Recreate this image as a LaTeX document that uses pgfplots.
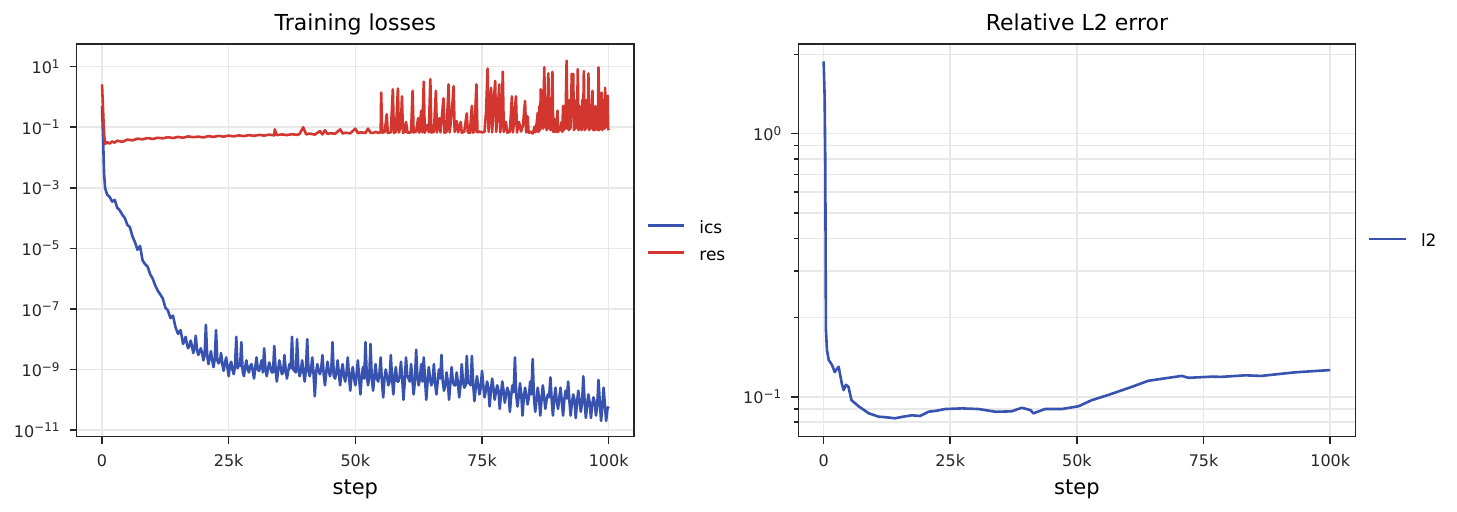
\documentclass[border=0pt]{standalone}
\usepackage{fontspec}
\setmainfont{DejaVu Sans}
\usepackage{pgfplots}
\usepackage{pgfplotstable}
\pgfplotsset{compat=1.18}

\definecolor{lineblue}{RGB}{56,82,176}
\definecolor{linered}{RGB}{211,54,46}
\definecolor{gridgray}{RGB}{232,232,232}
\definecolor{framegray}{RGB}{38,38,38}

% initial-condition loss
\pgfplotstableread{
step value
0 0.5
200 0.05
400 3e-3
600 1e-3
1000 6e-4
1500 5e-4
2000 3.5e-4
2500 4e-4
3000 2.2e-4
3500 1.8e-4
4000 1.3e-4
4500 1e-4
5000 6e-5
5500 5e-5
6000 2.5e-5
6500 1.6e-5
7000 9e-6
7500 1.2e-5
8000 4e-6
8500 3e-6
9000 2.5e-6
9500 1.4e-6
10000 1.0e-6
10500 6e-7
11000 4e-7
11500 3e-7
12000 2.2e-7
12500 1.1e-7
13000 9e-8
13500 5e-8
14000 6e-8
14500 2.5e-8
15000 1.5e-8
15500 2e-8
16000 7e-9
16250 9e-9
16500 1.2e-8
16750 7e-9
17000 5e-9
17250 6e-9
17500 9e-9
17750 6e-9
18000 3.5e-9
18250 5e-9
18500 1.3e-8
18750 4.5e-9
19000 3e-9
19250 4e-9
19500 5e-9
19750 3.5e-9
20000 2e-9
20250 3e-9
20500 3e-8
20750 3e-9
21000 1.5e-9
21250 2.5e-9
21500 4e-9
21750 2e-9
22000 1.2e-9
22250 2.2e-9
22500 2e-8
22750 2e-9
23000 1.6e-9
23250 1.8e-9
23500 3.5e-9
23750 1.5e-9
24000 9e-10
24250 1.6e-9
24500 2.5e-9
24750 1.2e-9
25000 6e-10
25250 1.4e-9
25500 1.8e-9
25750 1e-9
26000 7e-10
26250 1.3e-9
26500 1.2e-8
26750 1.1e-9
27000 1.5e-9
27250 1.3e-9
27500 8e-9
27750 9e-10
28000 6e-10
28250 1.2e-9
28500 2e-9
28750 1e-9
29000 8e-10
29250 1.3e-9
29500 1.5e-9
29750 9e-10
30000 5e-10
30250 1.2e-9
30500 2.5e-9
30750 1e-9
31000 9e-10
31250 1.3e-9
31500 2e-9
31750 8e-10
32000 5e-9
32250 1.1e-9
32500 6e-10
32750 1e-9
33000 1.7e-9
33250 1.2e-9
33500 8e-10
33750 8e-10
34000 6e-9
34250 1.1e-9
34500 4e-10
34750 9e-10
35000 2e-9
35250 1.2e-9
35500 7e-10
35750 8e-10
36000 3e-9
36250 1e-9
36500 5e-10
36750 9e-10
37000 1.5e-9
37250 1.1e-9
37500 1.2e-8
37750 1e-9
38000 9e-10
38250 8e-10
38500 1e-8
38750 1.1e-9
39000 6e-10
39250 9e-10
39500 2e-9
39750 8e-10
40000 4e-10
40250 1e-9
40500 1e-8
40750 9e-10
41000 6e-10
41250 1e-9
41500 2.5e-9
41750 7e-10
42000 1.3e-10
42250 8e-10
42500 1.5e-9
42750 9e-10
43000 7e-10
43250 1e-9
43500 3e-9
43750 7e-10
44000 3e-10
44250 8e-10
44500 1.8e-9
44750 9e-10
45000 6e-10
45250 1e-9
45500 8e-9
45750 6e-10
46000 5e-10
46250 8e-10
46500 2e-9
46750 7e-10
47000 3e-10
47250 9e-10
47500 1.5e-9
47750 6e-10
48000 4e-10
48250 8e-10
48500 2.5e-9
48750 6e-10
49000 2e-10
49250 7e-10
49500 1.2e-9
49750 5e-10
50000 3e-10
50250 7e-10
50500 2e-9
50750 5e-10
51000 1.5e-10
51250 6e-10
51500 1.2e-9
51750 5e-10
52000 8e-9
52250 7e-10
52500 3e-10
52750 6e-10
53000 7e-9
53250 5e-10
53500 2e-10
53750 6e-10
54000 1.5e-9
54250 5e-10
54500 4e-10
54750 7e-10
55000 2.5e-9
55250 4e-10
55500 1.2e-10
55750 5e-10
56000 1e-9
56250 6e-10
56500 3e-10
56750 4e-10
57000 3e-9
57250 5e-10
57500 1.5e-10
57750 6e-10
58000 1.2e-9
58250 4e-10
58500 4e-10
58750 6e-10
59000 1.8e-9
59250 5e-10
59500 1e-10
59750 4e-10
60000 2.5e-9
60250 6e-10
60500 5e-10
60750 4e-10
61000 1.5e-9
61250 5e-10
61500 1.5e-10
61750 4e-10
62000 4.5e-9
62250 6e-10
62500 3e-10
62750 5e-10
63000 1.5e-9
63250 4e-10
63500 2.5e-9
63750 5e-10
64000 1e-10
64250 4e-10
64500 1.2e-9
64750 5e-10
65000 3e-10
65250 4e-10
65500 1.5e-9
65750 3.5e-10
66000 1.5e-10
66250 4e-10
66500 1e-9
66750 5e-10
67000 3e-9
67250 4e-10
67500 2e-10
67750 3e-10
68000 8e-10
68250 4e-10
68500 1e-10
68750 3.5e-10
69000 1.2e-9
69250 4e-10
69500 3e-10
69750 3e-10
70000 8e-10
70250 3.5e-10
70500 1.2e-10
70750 3e-10
71000 1.5e-9
71250 4e-10
71500 2.5e-10
71750 3e-10
72000 2.8e-9
72250 3.5e-10
72500 4e-10
72750 3e-10
73000 2.8e-9
73250 3.5e-10
73500 9e-11
73750 2.5e-10
74000 6e-10
74250 3e-10
74500 1.5e-10
74750 2.5e-10
75000 9e-10
75250 3e-10
75500 1.2e-10
75750 2e-10
76000 4e-10
76250 2.5e-10
76500 6e-11
76750 2e-10
77000 5e-10
77250 2.5e-10
77500 1e-10
77750 1.8e-10
78000 3e-10
78250 2e-10
78500 5e-11
78750 1.5e-10
79000 4e-10
79250 2e-10
79500 8e-11
79750 1.5e-10
80000 2.5e-10
80250 1.8e-10
80500 4e-11
80750 1.3e-10
81000 3e-10
81250 1.8e-10
81500 2.5e-9
81750 1.5e-10
82000 6e-11
82250 1.3e-10
82500 3.5e-10
82750 1.5e-10
83000 3e-11
83250 1.2e-10
83500 2.5e-10
83750 1.4e-10
84000 7e-11
84250 1.2e-10
84500 4e-10
84750 1.5e-10
85000 2.2e-9
85250 1.2e-10
85500 4e-11
85750 1e-10
86000 2.5e-10
86250 1.2e-10
86500 3e-11
86750 1e-10
87000 3e-10
87250 1.3e-10
87500 5e-11
87750 1e-10
88000 1.5e-10
88250 1.2e-10
88500 5.5e-10
88750 1e-10
89000 3e-11
89250 1.1e-10
89500 2.5e-10
89750 9e-11
90000 5e-11
90250 1.1e-10
90500 2.5e-10
90750 9e-11
91000 3e-11
91250 1e-10
91500 2e-10
91750 1.1e-10
92000 4e-10
92250 9e-11
92500 3e-11
92750 8e-11
93000 1.5e-10
93250 1e-10
93500 2.5e-11
93750 8e-11
94000 2e-10
94250 9e-11
94500 4e-11
94750 8e-11
95000 6e-10
95250 9e-11
95500 2.5e-11
95750 7e-11
96000 1.5e-10
96250 8e-11
96500 2.5e-11
96750 7e-11
97000 1.2e-10
97250 8e-11
97500 3e-11
97750 7e-11
98000 4.5e-10
98250 8e-11
98500 2e-11
98750 6e-11
99000 2.5e-10
99250 7e-11
99500 2e-11
99750 5e-11
100000 6e-11
}\icsdata

% PDE residual loss
\pgfplotstableread{
step value
0 2.6
200 0.4
400 0.06
600 0.028
1000 0.032
1500 0.029
2000 0.034
2500 0.031
3000 0.036
4000 0.033
5000 0.039
6000 0.037
7000 0.042
8000 0.040
9000 0.044
10000 0.041
11000 0.045
12000 0.043
13000 0.047
14000 0.044
15000 0.048
16000 0.045
17000 0.050
18000 0.047
19000 0.049
20000 0.046
21000 0.051
22000 0.048
23000 0.052
24000 0.049
25000 0.053
26000 0.050
27000 0.054
28000 0.051
29000 0.055
30000 0.052
31000 0.056
32000 0.053
33000 0.057
34000 0.054
34100 0.085
34500 0.055
35500 0.058
36500 0.055
37500 0.059
38500 0.056
39000 0.060
39700 0.10
40300 0.058
41000 0.062
42000 0.057
43000 0.075
43500 0.058
44000 0.080
44500 0.060
45000 0.064
46000 0.061
47000 0.085
47500 0.062
48000 0.066
49000 0.063
50000 0.090
50500 0.064
51000 0.068
52000 0.065
52500 0.09
53000 0.066
53500 0.065
54000 0.07
54500 0.066
55000 0.068
55100 1.4
55300 0.066
55800 0.07
56200 0.27
56400 0.065
57000 0.068
57400 1.8
57600 0.066
58000 0.07
58400 1.9
58600 0.067
59000 0.12
59200 1.05
59400 0.066
59800 0.07
60000 0.15
60300 0.066
61000 0.068
61300 1.6
61500 0.067
62000 0.072
62400 0.2
62600 0.066
63000 0.35
63200 0.068
63500 3.2
63700 0.066
64200 0.12
64500 0.068
64800 3.9
65000 0.067
65500 0.07
65900 1.6
66100 0.067
66600 0.2
66800 0.068
67400 0.9
67600 0.066
68000 0.07
68400 2.6
68600 0.068
69000 0.25
69400 2.3
69600 0.07
70000 0.16
70300 0.068
70800 0.15
71000 0.066
71500 0.072
72000 0.29
72200 0.068
72600 0.065
73000 0.51
73200 0.067
73500 0.070
73900 2.6
74100 0.068
74500 0.072
75000 0.068
75500 0.07
75800 0.32
76100 8.7
76300 0.07
76500 0.35
76800 2.0
77000 0.068
77300 0.6
77600 3.4
77800 0.07
78100 0.3
78400 2.6
78600 0.068
78900 0.2
79100 6.8
79300 0.07
79700 0.15
80000 0.066
80500 0.072
80900 1.05
81100 0.068
81400 0.2
81700 1.05
81900 0.067
82300 0.15
82700 0.072
83100 0.12
83500 0.74
83700 0.068
84000 0.23
84200 0.066
84700 0.07
85000 0.062
85400 0.105
85600 0.068
86000 0.3
86150 0.07
86300 0.5
86450 0.08
86600 1.8
86750 0.1
86900 0.5
87050 0.09
87150 0.8
87300 9.5
87450 0.1
87600 0.6
87750 0.08
87900 0.4
88100 6.0
88250 0.09
88400 0.5
88550 0.08
88700 0.3
88900 6.8
89050 0.07
89200 0.2
89350 0.07
89500 0.12
89650 0.07
89900 0.35
90050 0.07
90300 0.1
90500 0.08
90700 0.15
90850 0.07
91000 0.51
91150 0.08
91300 0.5
91450 0.09
91700 15.8
91850 0.09
92000 0.4
92150 0.08
92300 0.8
92450 0.09
92600 0.3
92700 5.8
92850 0.6
93000 5.8
93150 0.08
93300 0.5
93450 0.09
93600 0.8
93750 0.1
93900 8.3
94050 0.08
94200 0.5
94350 0.09
94500 0.3
94650 0.08
94800 0.8
94950 0.1
95100 7.2
95250 0.08
95400 0.6
95550 0.09
95700 0.8
95850 0.1
96000 6.0
96150 0.08
96300 0.4
96450 0.09
96650 0.5
96800 1.6
96950 0.08
97100 0.3
97250 0.08
97400 0.5
97550 0.09
97700 0.2
97850 0.08
98000 9.5
98150 0.08
98300 0.4
98450 0.09
98600 1.4
98750 0.08
98900 0.3
99100 0.8
99200 0.09
99300 2.0
99450 0.1
99600 0.5
99800 1.1
99900 0.09
100000 0.08
}\resdata

% relative L2 error
\pgfplotstableread{
step value
0 1.88
200 1.38
330 0.77
400 0.32
450 0.18
650 0.151
1000 0.138
1650 0.132
2200 0.124
2400 0.126
2960 0.130
3600 0.112
3950 0.106
4400 0.111
4900 0.109
5500 0.097
6900 0.092
8900 0.0865
10850 0.084
12500 0.0835
14100 0.0828
15700 0.0840
17400 0.0850
19000 0.0845
20700 0.0877
22300 0.0885
24000 0.0898
27300 0.0903
30600 0.0898
33900 0.0877
37100 0.0880
39100 0.0908
40800 0.0890
41400 0.0865
43700 0.0898
47000 0.0898
50300 0.0920
52900 0.0970
56200 0.1016
58800 0.1057
60800 0.1090
64100 0.1150
67400 0.1175
70700 0.1200
72000 0.1180
76600 0.1192
78500 0.1190
83200 0.1206
86400 0.1200
93000 0.1238
100000 0.1263
}\ltwodata

\pgfplotsset{
  panel/.style={
    scale only axis,
    width=278.65pt, height=196.35pt,
    xmin=-5000, xmax=105000,
    xtick={0,25000,50000,75000,100000},
    xticklabels={0,25k,50k,75k,100k},
    scaled x ticks=false,
    tick align=outside, tick pos=left,
    major tick length=3.5pt, minor tick length=2pt,
    every tick/.style={framegray, line width=0.8pt},
    axis line style={framegray, line width=0.8pt},
    grid style={gridgray, line width=0.8pt},
    xmajorgrids, ymajorgrids,
    tick label style={font=\fontsize{8}{9.6}\selectfont, text=black!85},
    xticklabel style={anchor=base, yshift=-11.2pt},
    yticklabel style={anchor=east, xshift=-1pt},
    title style={font=\fontsize{11}{13}\selectfont, at={(0.5,1)}, anchor=base, yshift=0.5pt},
    xlabel style={font=\fontsize{10.5}{12}\selectfont, at={(0.5,0)}, anchor=base, yshift=-29pt},
    xlabel={step},
    legend style={draw=none, fill=none, at={(1,0.5)}, anchor=west, xshift=5.9pt, yshift=-0.75pt,
      font=\fontsize{8.5}{10}\selectfont, inner sep=0pt, row sep=5.2pt,
      nodes={inner sep=0pt, text height=6.5pt, text depth=1.8pt}},
    legend cell align=left,
    legend image code/.code={\draw[#1, line width=1.3pt] (0pt,1.4pt) -- (18.3pt,1.4pt); \path (25.3pt,0pt);},
  }
}

\begin{document}
\begin{tikzpicture}
\path[use as bounding box] (-38.35pt,-37.65pt) rectangle (690.15pt,218.35pt);

\begin{semilogyaxis}[panel,
  at={(0pt,0pt)}, anchor=south west,
  title={Training losses},
  ymin=6.03e-12, ymax=56.2,
  ytick={1e1,1e-1,1e-3,1e-5,1e-7,1e-9,1e-11},
  yticklabels={10\textsuperscript{1},10\textsuperscript{−1},10\textsuperscript{−3},10\textsuperscript{−5},10\textsuperscript{−7},10\textsuperscript{−9},10\textsuperscript{−11}},
  yminorticks=false,
]
\addplot[lineblue, line width=1.3pt, line join=round] table[x=step, y=value] {\icsdata};
\addlegendentry{ics}
\addplot[linered, line width=1.3pt, line join=round] table[x=step, y=value] {\resdata};
\addlegendentry{res}
\end{semilogyaxis}

\begin{semilogyaxis}[panel,
  at={(360.8pt,0pt)}, anchor=south west,
  title={Relative L2 error},
  ymin=0.0705, ymax=2.19,
  ytick={0.1,1},
  yticklabels={10\textsuperscript{−1},10\textsuperscript{0}},
  minor ytick={0.08,0.09,0.2,0.3,0.4,0.5,0.6,0.7,0.8,0.9,2},
  yminorgrids,
  minor grid style={gridgray, line width=0.8pt},
]
\addplot[lineblue, line width=1.3pt, line join=round] table[x=step, y=value] {\ltwodata};
\addlegendentry{l2}
\end{semilogyaxis}
\end{tikzpicture}
\end{document}
